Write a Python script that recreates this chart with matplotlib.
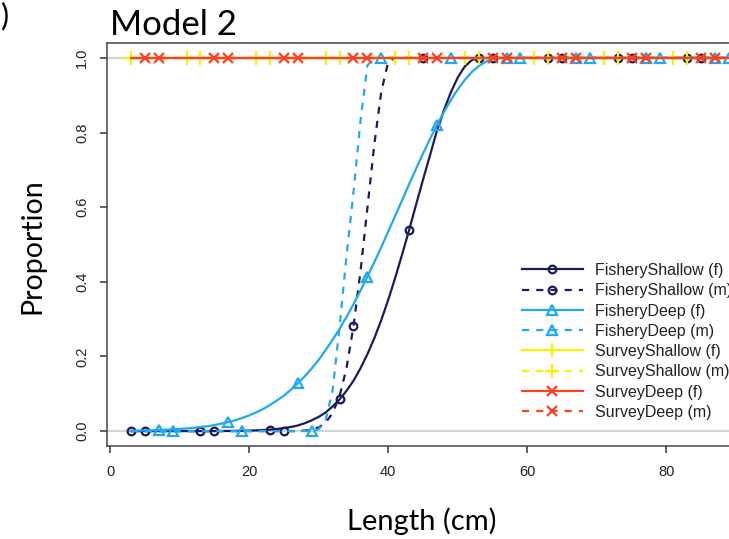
import matplotlib.pyplot as plt
import numpy as np

# length bins (cm)
length_cm = np.arange(3, 90)

# selectivity, one value per cm bin
fishery_shallow_f = ([0.0] * 12 +
                     [0.0001, 0.0002, 0.0003, 0.0005, 0.0008, 0.0012, 0.0018, 0.0027, 0.0039, 0.0056,
                      0.0079, 0.011, 0.015, 0.021, 0.029, 0.038, 0.050, 0.066, 0.085, 0.108,
                      0.135, 0.168, 0.206, 0.249, 0.298, 0.352, 0.411, 0.474, 0.539, 0.607,
                      0.674, 0.739, 0.805, 0.860, 0.908, 0.948, 0.977, 0.994] +
                     [1.0] * 37)
fishery_shallow_m = ([0.0] * 25 +
                     [0.0014, 0.0039, 0.0097, 0.023, 0.048, 0.094, 0.169, 0.281, 0.427, 0.598,
                      0.769, 0.910, 0.990] +
                     [1.0] * 49)
fishery_deep_f = ([0.001, 0.0013, 0.0017, 0.0022, 0.0028, 0.0036, 0.0045, 0.0057, 0.0071, 0.0088,
                   0.011, 0.013, 0.016, 0.020, 0.024, 0.029, 0.035, 0.042, 0.050, 0.059,
                   0.070, 0.082, 0.095, 0.111, 0.128, 0.147, 0.168, 0.191, 0.217, 0.245,
                   0.274, 0.306, 0.340, 0.376, 0.414, 0.453, 0.493, 0.535, 0.577, 0.619,
                   0.662, 0.703, 0.744, 0.783, 0.820, 0.855, 0.887, 0.916, 0.941, 0.962,
                   0.978, 0.990, 0.998] +
                  [1.0] * 34)
fishery_deep_m = ([0.0] * 27 +
                  [0.005, 0.03, 0.11, 0.28, 0.47, 0.64, 0.83, 0.98] +
                  [1.0] * 52)
survey_shallow_f = [1.0] * 87
survey_shallow_m = [1.0] * 87
survey_deep_f = [1.0] * 87
survey_deep_m = [1.0] * 87

series_labels = ["FisheryShallow (f)", "FisheryShallow (m)", "FisheryDeep (f)", "FisheryDeep (m)",
                 "SurveyShallow (f)", "SurveyShallow (m)", "SurveyDeep (f)", "SurveyDeep (m)"]
x_ticks = [0, 20, 40, 60, 80]
y_ticks = [0.0, 0.2, 0.4, 0.6, 0.8, 1.0]

navy = "#1b1b5c"
sky = "#1fa9f2"
yellow = "#f4f400"
red = "#ff401f"
dash = (0, (3.2, 3.2))

fig = plt.figure(figsize=(7.29, 5.39), dpi=100)
ax = fig.add_axes([107 / 729, 93 / 539, 646 / 729, 403 / 539])

# reference lines at 0 and 1
ax.axhline(0, color="#d4d4d4", lw=1.6, zorder=0)
ax.axhline(1, color="#d4d4d4", lw=1.6, zorder=0)

styles = [
    (fishery_shallow_f, navy, "-", "o", 0),
    (fishery_shallow_m, navy, dash, "o", 2),
    (fishery_deep_f, sky, "-", "^", 4),
    (fishery_deep_m, sky, dash, "^", 6),
    (survey_shallow_f, yellow, "-", "+", 8),
    (survey_shallow_m, yellow, dash, "+", 0),
    (survey_deep_f, red, "-", "x", 2),
    (survey_deep_m, red, dash, "x", 4),
]
for (vals, col, ls, mk, start), lab in zip(styles, series_labels):
    ms = {"o": 5.5, "^": 7, "+": 10, "x": 7}[mk]
    ax.plot(length_cm, vals, color=col, linestyle=ls, lw=1.6, marker=mk, ms=ms,
            mfc="none", mec=col, mew=1.6, markevery=(start, 10), label=lab)

ax.set_xlim(-0.44, 92.44)
ax.set_ylim(-0.04, 1.04)
ax.set_xticks(x_ticks)
ax.set_yticks(y_ticks)
ax.set_yticklabels(["%.1f" % v for v in y_ticks], rotation=90, va="center")
ax.tick_params(axis="both", length=5, width=1.1, color="#333333", labelsize=10.5, labelcolor="#222222")
ax.tick_params(axis="x", pad=9)
ax.tick_params(axis="y", pad=8)
for sp in ax.spines.values():
    sp.set_color("#444444")
    sp.set_linewidth(1.1)

leg = ax.legend(loc="upper left", bbox_to_anchor=(522 / 729, 1 - 263 / 539), bbox_transform=fig.transFigure,
                frameon=False, fontsize=11.5, handlelength=3.8, handletextpad=0.8, labelspacing=0.33,
                borderpad=0, borderaxespad=0)
for t in leg.get_texts():
    t.set_family("Liberation Sans")
    t.set_color("#222222")
for t in ax.get_xticklabels() + ax.get_yticklabels():
    t.set_family("Liberation Sans")

fig.text(110 / 729, 1 - 35 / 539, "Model 2", fontsize=25, family="Lato", ha="left", va="baseline")
fig.text(32 / 729, 1 - 246 / 539, "Proportion", fontsize=20.5, family="Lato", rotation=90, ha="center", va="center")
fig.text(422 / 729, 1 - 521 / 539, "Length (cm)", fontsize=21, family="Lato", ha="center", va="center")
fig.text(8 / 729, 1 - 25 / 539, ")", fontsize=22, family="Lato", ha="right", va="baseline")

fig.savefig("out.png", dpi=100)
